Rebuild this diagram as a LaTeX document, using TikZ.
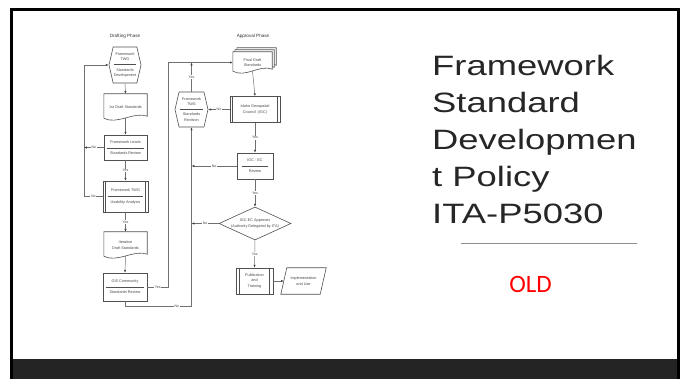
\documentclass[tikz,border=0pt]{standalone}
\usepackage{fontspec}
\usepackage{graphicx}
\usetikzlibrary{arrows.meta,shapes.geometric,shapes.symbols,calc}
\pgfdeclarelayer{bg}
\pgfsetlayers{bg,main}
\newfontfamily\fcf{Liberation Sans}
\newfontfamily\titlef{Liberation Sans}
\newfontfamily\oldf{Carlito}
\definecolor{fcline}{HTML}{707070}
\definecolor{fcshape}{HTML}{505050}
\definecolor{fctext}{HTML}{4A4A4A}
\definecolor{titlegray}{HTML}{262626}
\definecolor{barcol}{HTML}{242424}
\definecolor{rulegray}{HTML}{8C8C8C}
\tikzset{
  shp/.style={draw=fcshape, line width=0.6pt},
  txt/.style={font=\fcf\fontsize{3.8}{5.6}\selectfont, text=fctext, align=center, inner sep=0pt},
  box/.style={txt, shp, rectangle, fill=white},
  plain/.style={txt, rectangle},
  hexn/.style={txt, shp, signal, signal to=west and east, fill=white},
  dia/.style={txt, shp, diamond, fill=white, aspect=2.2},
  conn/.style={draw=fcline, line width=0.5pt},
  arr/.style={conn, -{Latex[length=2.8pt,width=2.2pt,color=black!75]}},
  lbl/.style={font=\fcf\fontsize{3.6}{4}\selectfont, text=fctext, fill=white, inner sep=0.6pt},
  head/.style={font=\fcf\fontsize{4.6}{5}\selectfont, text=black!80, inner sep=0pt}
}
\newcommand\docshape[3]{%
  \draw[shp, fill=white] ($(#1.north west)+(#2,#3)$) -- ($(#1.north east)+(#2,#3)$)
    -- ($(#1.south east)+(#2,#3-4)$) .. controls +(-13,-5) and +(13,7) .. ($(#1.south west)+(#2,#3-2)$) -- cycle;}
\begin{document}
\begin{tikzpicture}[x=1pt,y=-1pt]
\useasboundingbox (0,0) rectangle (685,379);
% slide frame and bar
\fill[barcol] (13,359) rectangle (677,379);
\draw[line width=3pt, black] (11.6,379) -- (11.6,9.5) -- (678.5,9.5) -- (678.5,379);

% headings
\node[head] (dh) at (125,36) {Drafting Phase};
\node[head] (ah) at (253,36) {Approval Phase};

% drafting column
\node[hexn, minimum width=32, minimum height=36, signal pointer angle=154] (h1) at (125,65) {Framework\\TWG\\[4.5pt]Standards\\Development};
\draw[shp] ($(h1.west)+(5,-1)$) -- ($(h1.east)+(-5,-1)$);
\node[plain, minimum width=43, minimum height=26] (d1) at (125.5,107) {1st Draft Standards};
\node[box, minimum width=43, minimum height=25] (b1) at (125.5,147.5) {Framework Leads\\[5.5pt]Standards Review};
\draw[shp] ($(b1.west)+(3,0.5)$) -- ($(b1.east)+(-3,0.5)$);
\node[box, minimum width=45, minimum height=31] (b2) at (125.5,196.5) {Framework TWG\\[5.5pt]Usability Analysis};
\draw[shp] ($(b2.west)+(5,0)$) -- ($(b2.east)+(-5,0)$);
\draw[shp] ($(b2.north west)+(3,0)$) -- ($(b2.south west)+(3,0)$);
\draw[shp] ($(b2.north east)+(-3,0)$) -- ($(b2.south east)+(-3,0)$);
\node[plain, minimum width=43, minimum height=26] (d2) at (125.5,245) {Iterative\\Draft Standards};
\node[box, minimum width=44, minimum height=28] (b3) at (125,287) {GIS Community\\[5.5pt]Standards Review};
\draw[shp] ($(b3.west)+(3,0)$) -- ($(b3.east)+(-3,0)$);

% approval column
\node[plain, minimum width=39, minimum height=21] (md) at (252.5,62.5) {Final Draft\\Standards};
\node[box, minimum width=50, minimum height=26] (b4) at (255,109.5) {Idaho Geospatial\\Council~~(IGC)};
\draw[shp] ($(b4.north west)+(3,0)$) -- ($(b4.south west)+(3,0)$);
\draw[shp] ($(b4.north east)+(-3,0)$) -- ($(b4.south east)+(-3,0)$);
\node[hexn, minimum width=33, minimum height=35, signal pointer angle=154] (h2) at (191.5,109.5) {Framework\\TWG\\[4.5pt]Standards\\Revision};
\draw[shp] ($(h2.west)+(5,-0.5)$) -- ($(h2.east)+(-5,-0.5)$);
\node[box, minimum width=36, minimum height=26] (b5) at (255,166) {IGC - EC\\[5.5pt]Review};
\draw[shp] ($(b5.west)+(5,0)$) -- ($(b5.east)+(-5,0)$);
\node[dia, minimum width=72, minimum height=33] (dm) at (255,223.5) {IGC-EC Approves\\(Authority Delegated by ITA)};
\node[box, minimum width=37, minimum height=26] (b6) at (254.5,281) {Publication\\and\\Training};
\draw[shp] ($(b6.north west)+(4,0)$) -- ($(b6.south west)+(4,0)$);
\draw[shp] ($(b6.north east)+(-4,0)$) -- ($(b6.south east)+(-4,0)$);
\node[plain, minimum width=45, minimum height=26] (pg) at (303.5,281) {Implementation\\and Use};

\begin{pgfonlayer}{bg}
  \docshape{d1}{0}{0}
  \docshape{d2}{0}{0}
  \docshape{md}{4}{-4}
  \docshape{md}{2}{-2}
  \docshape{md}{0}{0}
  \draw[shp, fill=white] (pg.south west) -- ($(pg.north west)+(6,0)$) -- (pg.north east) -- ($(pg.south east)+(-6,0)$) -- cycle;
\end{pgfonlayer}

% connectors
\coordinate (lx) at (84,148);
\draw[arr] (h1.south) -- (d1.north);
\draw[arr] ($(d1.south)+(0,-2)$) -- (b1.north);
\draw[arr] (b1.south) -- node[lbl]{Yes} (b2.north);
\draw[arr] (b2.south) -- node[lbl]{Yes} (d2.north);
\draw[arr] ($(d2.south)+(0,-2)$) -- (b3.north);
\draw[arr] (b2.west) -- node[lbl]{No} (b2.west -| lx) |- (h1.west);
\draw[arr] (b1.west) -- node[lbl]{No} (b1.west -| lx);
\draw[arr] (b3.east) -- node[lbl]{Yes} ++(21,0) |- (md.west);
\draw[arr] (b3.south) -- ++(0,5) -| node[lbl,pos=0.39]{No} (h2.south);
\draw[arr] (h2.north) -- node[lbl]{Yes} (h2.north |- md.west);
\draw[arr] ($(md.south)+(0,-2)$) -- (b4.north);
\draw[arr] (b4.west) -- node[lbl]{No} (h2.east);
\draw[arr] (b4.south) -- node[lbl]{Yes} (b5.north);
\draw[arr] (b5.west) -- node[lbl]{No} (b5.west -| h2.south);
\draw[arr] (b5.south) -- node[lbl]{Yes} (dm.north);
\draw[arr] (dm.west) -- node[lbl]{No} (dm.west -| h2.south);
\draw[arr] (dm.south) -- node[lbl]{Yes} (b6.north);
\draw[arr] (b6.east) -- ($(pg.west)+(3,0)$);

% title side
\node[anchor=north west, inner sep=0pt, text=titlegray, font=\titlef\fontsize{28}{37}\selectfont] (title) at (432,49.1)
  {\scalebox{1.3}[1]{\begin{tabular}{@{}l@{}}Framework\\Standard\\Developmen\\t Policy\\ITA-P5030\end{tabular}}};
\draw[rulegray, line width=0.9pt] (461,243) -- (637,243);
\node[text=red, inner sep=0pt, font=\oldf\fontsize{25}{30}\selectfont] (old) at (530.5,284.5) {OLD};
\end{tikzpicture}
\end{document}
